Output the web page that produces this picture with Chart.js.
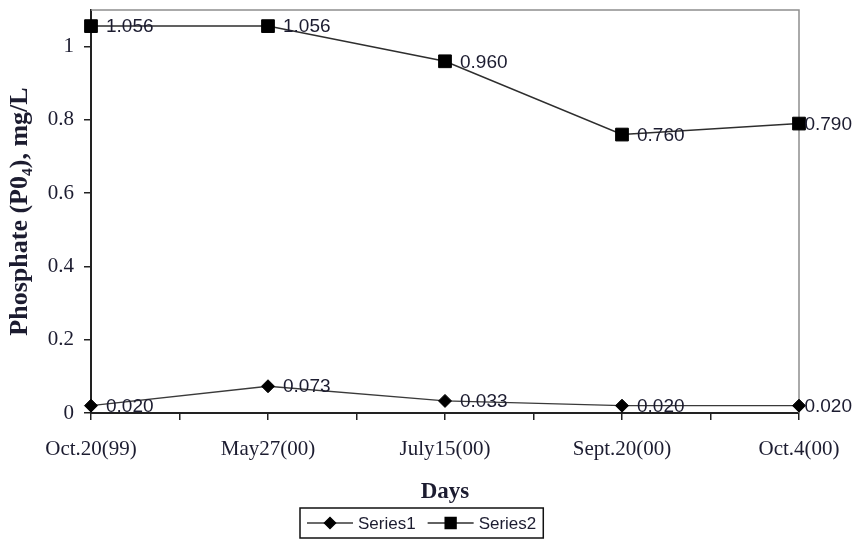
<!DOCTYPE html>
<html>
<head>
<meta charset="utf-8">
<script src="https://cdn.jsdelivr.net/npm/chart.js@4/dist/chart.umd.min.js"></script>
<style>
  html, body { margin: 0; padding: 0; background: #fff; }
  #wrap { width: 854px; height: 540px; }
</style>
</head>
<body>
<div id="wrap"><canvas id="c" width="854" height="540"></canvas></div>
<script>
// Sampling dates along the x axis
const days = ['Oct.20(99)', 'May27(00)', 'July15(00)', 'Sept.20(00)', 'Oct.4(00)'];
// Phosphate concentration, mg/L
const series1 = [0.020, 0.073, 0.033, 0.020, 0.020];
const series2 = [1.056, 1.056, 0.960, 0.760, 0.790];
// Value axis ticks
const yTicks = [0, 0.2, 0.4, 0.6, 0.8, 1];

const INK = '#1c1c30';
const SERIF = '"Liberation Serif", "Times New Roman", serif';
const SANS = '"Liberation Sans", Arial, sans-serif';

const toPoints = arr => arr.map((v, i) => ({ x: i, y: v }));

// Grey frame on the top and right of the plot area
const frame = {
  id: 'frame',
  beforeDatasetsDraw(chart) {
    const { ctx, chartArea: a } = chart;
    ctx.save();
    ctx.strokeStyle = '#8f8f8f';
    ctx.lineWidth = 1.5;
    ctx.beginPath();
    ctx.moveTo(a.left, a.top);
    ctx.lineTo(a.right, a.top);
    ctx.lineTo(a.right, a.bottom);
    ctx.stroke();
    ctx.restore();
  }
};

// Value labels to the right of each marker
const valueLabels = {
  id: 'valueLabels',
  afterDatasetsDraw(chart) {
    const ctx = chart.ctx;
    ctx.save();
    ctx.font = '19px ' + SANS;
    ctx.fillStyle = INK;
    ctx.textBaseline = 'middle';
    ctx.textAlign = 'left';
    chart.data.datasets.forEach((ds, di) => {
      const meta = chart.getDatasetMeta(di);
      meta.data.forEach((pt, i) => {
        const txt = ds.data[i].y.toFixed(3);
        const w = ctx.measureText(txt).width;
        const x = Math.min(pt.x + 15, chart.width - 2 - w);
        ctx.fillText(txt, x, pt.y + 1);
      });
    });
    ctx.restore();
  }
};

// Boxed legend with line-and-marker symbols
const boxLegend = {
  id: 'boxLegend',
  afterDraw(chart) {
    const ctx = chart.ctx;
    ctx.save();
    ctx.font = '17px ' + SANS;
    const pad = 7, sym = 46, gap = 5, between = 12;
    const items = chart.data.datasets.map(ds => ({ ds, w: ctx.measureText(ds.label).width }));
    let total = pad * 2;
    items.forEach((it, i) => { total += sym + gap + it.w + (i ? between : 0); });
    const h = 30;
    const left = Math.round(chart.width / 2 - 5 - total / 2);
    const top = chart.height - 32;
    ctx.strokeStyle = '#111';
    ctx.lineWidth = 1.5;
    ctx.strokeRect(left, top, total, h);
    const cy = top + h / 2;
    let x = left + pad;
    items.forEach((it, i) => {
      if (i) x += between;
      const ds = it.ds;
      ctx.strokeStyle = ds.borderColor;
      ctx.lineWidth = 1.5;
      ctx.beginPath();
      ctx.moveTo(x, cy);
      ctx.lineTo(x + sym, cy);
      ctx.stroke();
      ctx.fillStyle = '#000';
      ctx.strokeStyle = '#000';
      Chart.helpers.drawPoint(ctx, {
        pointStyle: ds.pointStyle,
        radius: ds.pointRadius * 0.85,
        rotation: 0,
        borderWidth: 1
      }, x + sym / 2, cy);
      x += sym + gap;
      ctx.fillStyle = INK;
      ctx.textBaseline = 'middle';
      ctx.textAlign = 'left';
      ctx.fillText(ds.label, x, cy + 1);
      x += it.w;
    });
    ctx.restore();
  }
};

const chart = new Chart(document.getElementById('c'), {
  type: 'line',
  data: {
    datasets: [
      {
        label: 'Series1',
        data: toPoints(series1),
        borderColor: '#3a3a3a',
        backgroundColor: '#000',
        borderWidth: 1.4,
        pointStyle: 'rectRot',
        pointRadius: 6.5,
        pointBackgroundColor: '#000',
        pointBorderColor: '#000',
        pointBorderWidth: 1,
        tension: 0,
        clip: false
      },
      {
        label: 'Series2',
        data: toPoints(series2),
        borderColor: '#2e2e2e',
        backgroundColor: '#000',
        borderWidth: 1.5,
        pointStyle: 'rect',
        pointRadius: 9,
        pointBackgroundColor: '#000',
        pointBorderColor: '#000',
        pointBorderWidth: 1,
        tension: 0,
        clip: false
      }
    ]
  },
  options: {
    responsive: false,
    animation: false,
    layout: { padding: { left: 0, right: 55, top: 7, bottom: 34 } },
    plugins: {
      legend: { display: false },
      tooltip: { enabled: false }
    },
    scales: {
      x: {
        type: 'linear',
        min: 0,
        max: days.length - 1,
        afterFit(scale) {
          scale.height = 93;
          scale.paddingLeft = 0;
          scale.paddingRight = 0;
        },
        ticks: {
          stepSize: 0.5,
          autoSkip: false,
          maxRotation: 0,
          padding: 17,
          color: INK,
          font: { family: SERIF, size: 21 },
          callback: v => Number.isInteger(v) ? days[v] : ''
        },
        grid: {
          drawOnChartArea: false,
          drawTicks: true,
          tickLength: 7,
          color: '#222',
          lineWidth: 1.5
        },
        border: { display: true, color: '#222', width: 2 },
        title: {
          display: true,
          text: 'Days',
          color: INK,
          font: { family: SERIF, size: 23, weight: 'bold' },
          padding: { top: 0, bottom: 0 }
        }
      },
      y: {
        min: 0,
        max: 1.1,
        afterFit(scale) {
          scale.width = 91;
          scale.paddingTop = 0;
          scale.paddingBottom = 0;
        },
        afterBuildTicks(scale) { scale.ticks = yTicks.map(v => ({ value: v })); },
        ticks: {
          padding: 10,
          color: INK,
          font: { family: SERIF, size: 21 },
          callback: v => String(Number(v.toFixed(1)))
        },
        grid: {
          drawOnChartArea: false,
          drawTicks: true,
          tickLength: 7,
          color: '#222',
          lineWidth: 1.5
        },
        border: { display: true, color: '#222', width: 2 },
        title: {
          display: true,
          text: 'Phosphate (P0\u2084), mg/L',
          color: INK,
          font: { family: SERIF, size: 26, weight: 'bold' },
          padding: { top: 5, bottom: 0 }
        }
      }
    }
  },
  plugins: [frame, valueLabels, boxLegend]
});
</script>
</body>
</html>
